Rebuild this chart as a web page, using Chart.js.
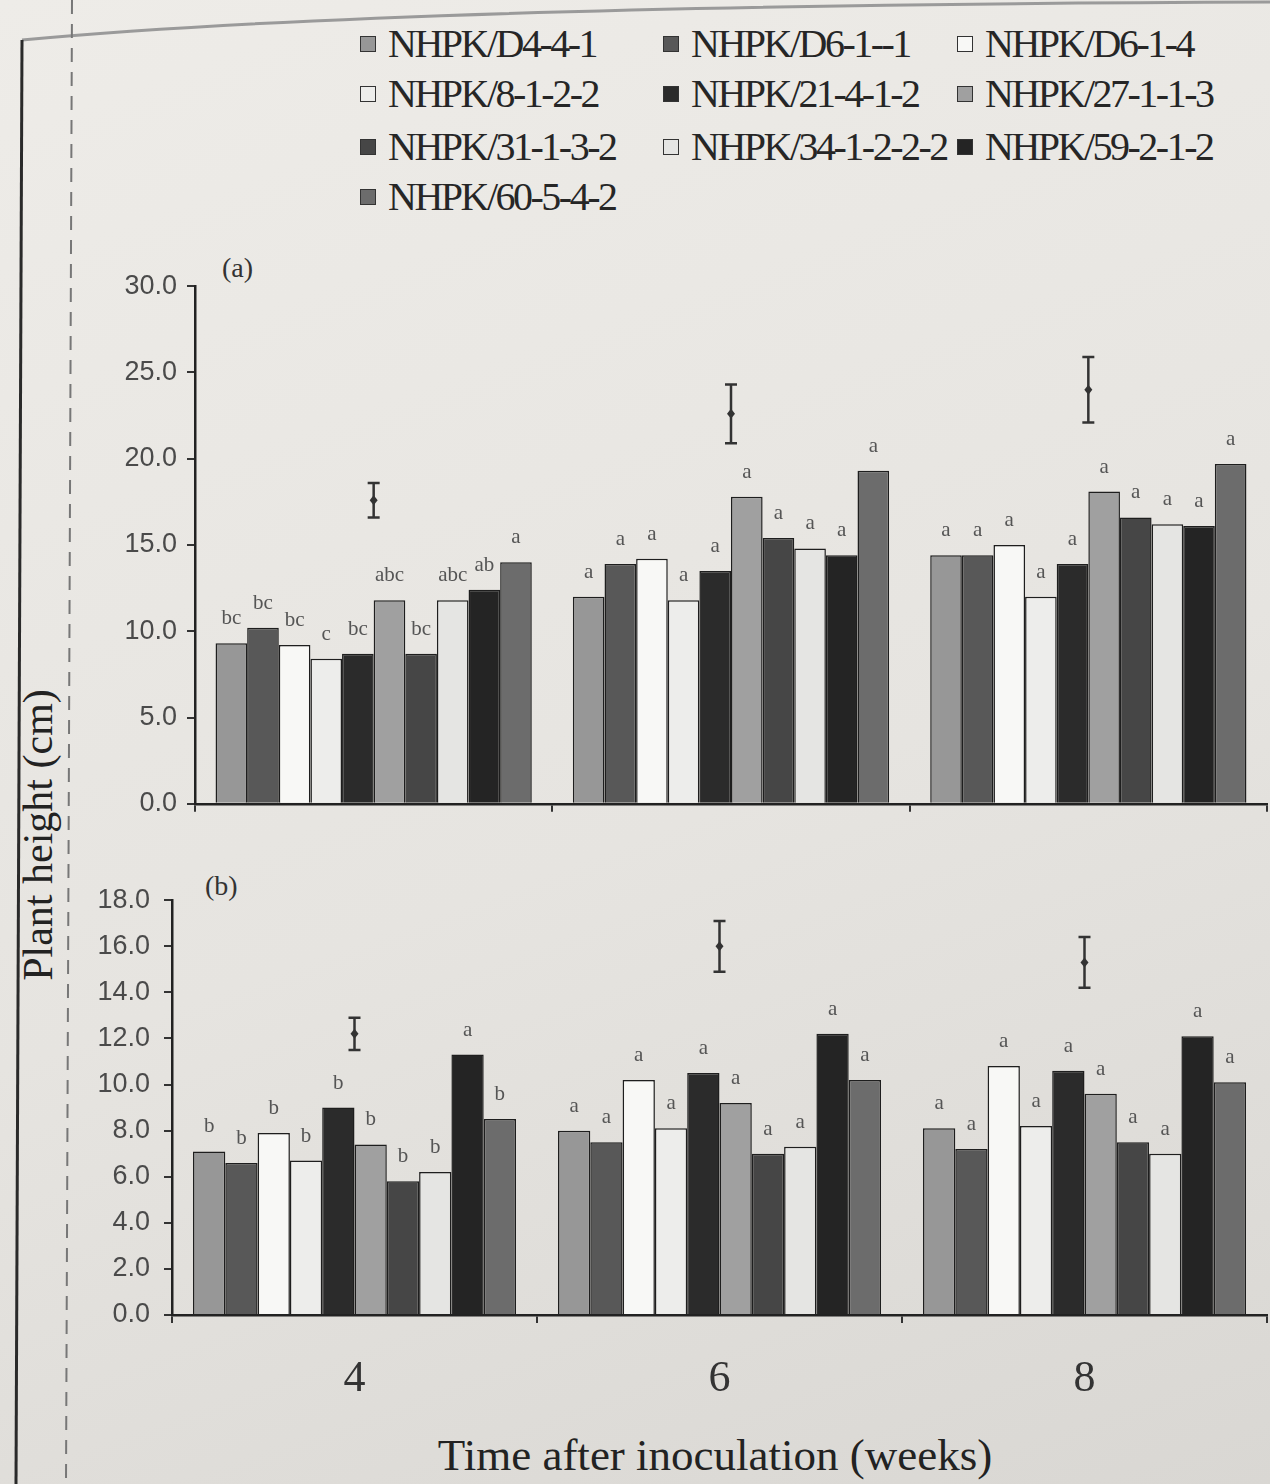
<!DOCTYPE html>
<html>
<head>
<meta charset="utf-8">
<script src="https://cdn.jsdelivr.net/npm/chart.js@4/dist/chart.umd.min.js"></script>
<style>
    body {
        margin: 0;
        width: 1270px;
        height: 1484px;
        overflow: hidden;
        background: linear-gradient(160deg, #eeece8 0%, #e6e4e0 55%, #d9d7d3 100%);
        font-family: 'Liberation Serif', serif;
        position: relative;
    }
    canvas { position: absolute; left: 0; }
    #chartA { top: 260px; }
    #chartB { top: 870px; }
    .leyenda { position: absolute; left: 0; top: 0; }
    .item {
        position: absolute;
        display: flex;
        align-items: center;
        font-size: 40px;
        color: #262626;
        white-space: nowrap;
        letter-spacing: -2.5px;
    }
    .item span.caja {
        width: 14px;
        height: 14px;
        border: 1px solid #333;
        margin-right: 12px;
        display: inline-block;
    }
    .panel { position: absolute; font-size: 28px; color: #333; }
    #tituloY {
        position: absolute;
        left: 38px;
        top: 835px;
        transform: translate(-50%, -50%) rotate(-90deg);
        font-size: 42px;
        color: #222;
        white-space: nowrap;
    }
    #tituloX {
        position: absolute;
        left: 715px;
        top: 1455px;
        transform: translate(-50%, -50%);
        font-size: 45px;
        color: #222;
        white-space: nowrap;
    }
</style>
</head>
<body>
<svg width="1270" height="1484" style="position:absolute;left:0;top:0">
    <path d="M22 40 Q 400 5 1270 2" stroke="#9a9a9a" stroke-width="3" fill="none"/>
    <line x1="22" y1="40" x2="16" y2="1484" stroke="#2a2a2a" stroke-width="3"/>
    <line x1="72" y1="0" x2="66" y2="1484" stroke="#777" stroke-width="2" stroke-dasharray="14 10"/>
</svg>
<div class="leyenda" id="leyenda"></div>
<div class="panel" style="left:222px;top:252px">(a)</div>
<div class="panel" style="left:205px;top:870px">(b)</div>
<div id="tituloY">Plant height (cm)</div>
<div id="tituloX">Time after inoculation (weeks)</div>
<canvas id="chartA" width="1270" height="570"></canvas>
<canvas id="chartB" width="1270" height="560"></canvas>
<script>
// ===== DATOS =====
const semanas = ['4', '6', '8'];
const aislados = ['NHPK/D4-4-1', 'NHPK/D6-1--1', 'NHPK/D6-1-4', 'NHPK/8-1-2-2', 'NHPK/21-4-1-2',
    'NHPK/27-1-1-3', 'NHPK/31-1-3-2', 'NHPK/34-1-2-2-2', 'NHPK/59-2-1-2', 'NHPK/60-5-4-2'];
const colores = ['#979797', '#585858', '#f8f8f6', '#ededeb', '#2b2b2b',
    '#a0a0a0', '#464646', '#e5e5e3', '#242424', '#6c6c6c'];

// panel (a): altura por semana, un valor por aislado
const alturaA4 = [9.3, 10.2, 9.2, 8.4, 8.7, 11.8, 8.7, 11.8, 12.4, 14.0];
const alturaA6 = [12.0, 13.9, 14.2, 11.8, 13.5, 17.8, 15.4, 14.8, 14.4, 19.3];
const alturaA8 = [14.4, 14.4, 15.0, 12.0, 13.9, 18.1, 16.6, 16.2, 16.1, 19.7];
// panel (b)
const alturaB4 = [7.1, 6.6, 7.9, 6.7, 9.0, 7.4, 5.8, 6.2, 11.3, 8.5];
const alturaB6 = [8.0, 7.5, 10.2, 8.1, 10.5, 9.2, 7.0, 7.3, 12.2, 10.2];
const alturaB8 = [8.1, 7.2, 10.8, 8.2, 10.6, 9.6, 7.5, 7.0, 12.1, 10.1];

// letras de significancia
const letrasA4 = ['bc', 'bc', 'bc', 'c', 'bc', 'abc', 'bc', 'abc', 'ab', 'a'];
const letrasA6 = ['a', 'a', 'a', 'a', 'a', 'a', 'a', 'a', 'a', 'a'];
const letrasA8 = ['a', 'a', 'a', 'a', 'a', 'a', 'a', 'a', 'a', 'a'];
const letrasB4 = ['b', 'b', 'b', 'b', 'b', 'b', 'b', 'b', 'a', 'b'];
const letrasB6 = ['a', 'a', 'a', 'a', 'a', 'a', 'a', 'a', 'a', 'a'];
const letrasB8 = ['a', 'a', 'a', 'a', 'a', 'a', 'a', 'a', 'a', 'a'];

// barras LSD (centro y semiamplitud) por semana
const lsdCentroA = [17.6, 22.6, 24.0];
const lsdMitadA = [1.0, 1.7, 1.9];
const lsdCentroB = [12.2, 16.0, 15.3];
const lsdMitadB = [0.7, 1.1, 1.1];

// ===== LEYENDA =====
const colsX = [360, 663, 957];
const filasY = [20, 70, 123, 173];
const leyenda = document.getElementById('leyenda');
aislados.forEach((nombre, i) => {
    const el = document.createElement('div');
    el.className = 'item';
    el.style.left = colsX[i % 3] + 'px';
    el.style.top = filasY[Math.floor(i / 3)] + 'px';
    el.innerHTML = '<span class="caja" style="background:' + colores[i] + '"></span>' + nombre;
    leyenda.appendChild(el);
});

// ===== PLUGINS =====
const pluginLetras = {
    id: 'letras',
    afterDatasetsDraw(chart, args, opts) {
        const ctx = chart.ctx;
        ctx.save();
        ctx.font = '21px "Liberation Serif"';
        ctx.fillStyle = '#555';
        ctx.textAlign = 'center';
        ctx.textBaseline = 'bottom';
        chart.data.datasets.forEach((ds, i) => {
            chart.getDatasetMeta(i).data.forEach((barra, j) => {
                ctx.fillText(opts.filas[j][i], barra.x, barra.y - opts.hueco);
            });
        });
        ctx.restore();
    }
};

const pluginLSD = {
    id: 'lsd',
    afterDatasetsDraw(chart, args, opts) {
        const ctx = chart.ctx;
        const x = chart.scales.x, y = chart.scales.y;
        ctx.save();
        ctx.strokeStyle = '#333';
        ctx.fillStyle = '#333';
        ctx.lineWidth = 2.5;
        opts.centro.forEach((c, k) => {
            const px = x.getPixelForValue(k);
            const arriba = y.getPixelForValue(c + opts.mitad[k]);
            const abajo = y.getPixelForValue(c - opts.mitad[k]);
            const medio = y.getPixelForValue(c);
            ctx.beginPath();
            ctx.moveTo(px, arriba); ctx.lineTo(px, abajo);
            ctx.moveTo(px - 6, arriba); ctx.lineTo(px + 6, arriba);
            ctx.moveTo(px - 6, abajo); ctx.lineTo(px + 6, abajo);
            ctx.stroke();
            ctx.beginPath();
            ctx.moveTo(px, medio - 5); ctx.lineTo(px + 4, medio);
            ctx.lineTo(px, medio + 5); ctx.lineTo(px - 4, medio);
            ctx.closePath();
            ctx.fill();
        });
        ctx.restore();
    }
};

// ===== GRÁFICOS =====
function crearDatasets(porSemana) {
    return aislados.map((nombre, i) => ({
        label: nombre,
        data: porSemana.map(s => s[i]),
        backgroundColor: colores[i],
        borderColor: '#1e1e1e',
        borderWidth: 1.5,
        barPercentage: 1.0,
        categoryPercentage: 0.885
    }));
}

function crearGrafico(id, porSemana, letras, lsd, cfg) {
    const ctx = document.getElementById(id).getContext('2d');
    return new Chart(ctx, {
        type: 'bar',
        data: { labels: semanas, datasets: crearDatasets(porSemana) },
        plugins: [pluginLetras, pluginLSD],
        options: {
            responsive: false,
            animation: false,
            layout: { padding: { top: cfg.arriba, right: 3, left: 0, bottom: 0 } },
            plugins: {
                legend: { display: false },
                tooltip: { enabled: false },
                letras: { filas: letras, hueco: 14 },
                lsd: lsd
            },
            scales: {
                x: {
                    grid: { drawOnChartArea: false, tickLength: 8, color: '#333', lineWidth: 2 },
                    border: { color: '#222', width: 2.5 },
                    ticks: {
                        display: cfg.etiquetasX,
                        color: '#333',
                        padding: 30,
                        font: { family: 'Liberation Serif', size: 44 }
                    },
                    afterFit: (escala) => { escala.height = cfg.altoX; }
                },
                y: {
                    min: 0,
                    max: cfg.max,
                    grid: { drawOnChartArea: false, tickLength: 8, color: '#333', lineWidth: 2 },
                    border: { color: '#222', width: 2.5 },
                    ticks: {
                        stepSize: cfg.paso,
                        color: '#4a4a4a',
                        padding: cfg.sepTicks,
                        font: { family: 'Liberation Sans', size: 27 },
                        callback: (v) => v.toFixed(1)
                    },
                    afterFit: (escala) => { escala.width = cfg.anchoY; }
                }
            }
        }
    });
}

crearGrafico('chartA', [alturaA4, alturaA6, alturaA8],
    [letrasA4, letrasA6, letrasA8],
    { centro: lsdCentroA, mitad: lsdMitadA },
    { arriba: 20, max: 30, paso: 5, anchoY: 195, altoX: 25, etiquetasX: false, sepTicks: 10 });

crearGrafico('chartB', [alturaB4, alturaB6, alturaB8],
    [letrasB4, letrasB6, letrasB8],
    { centro: lsdCentroB, mitad: lsdMitadB },
    { arriba: 17, max: 18, paso: 2, anchoY: 172, altoX: 115, etiquetasX: true, sepTicks: 14 });
</script>
</body>
</html>
